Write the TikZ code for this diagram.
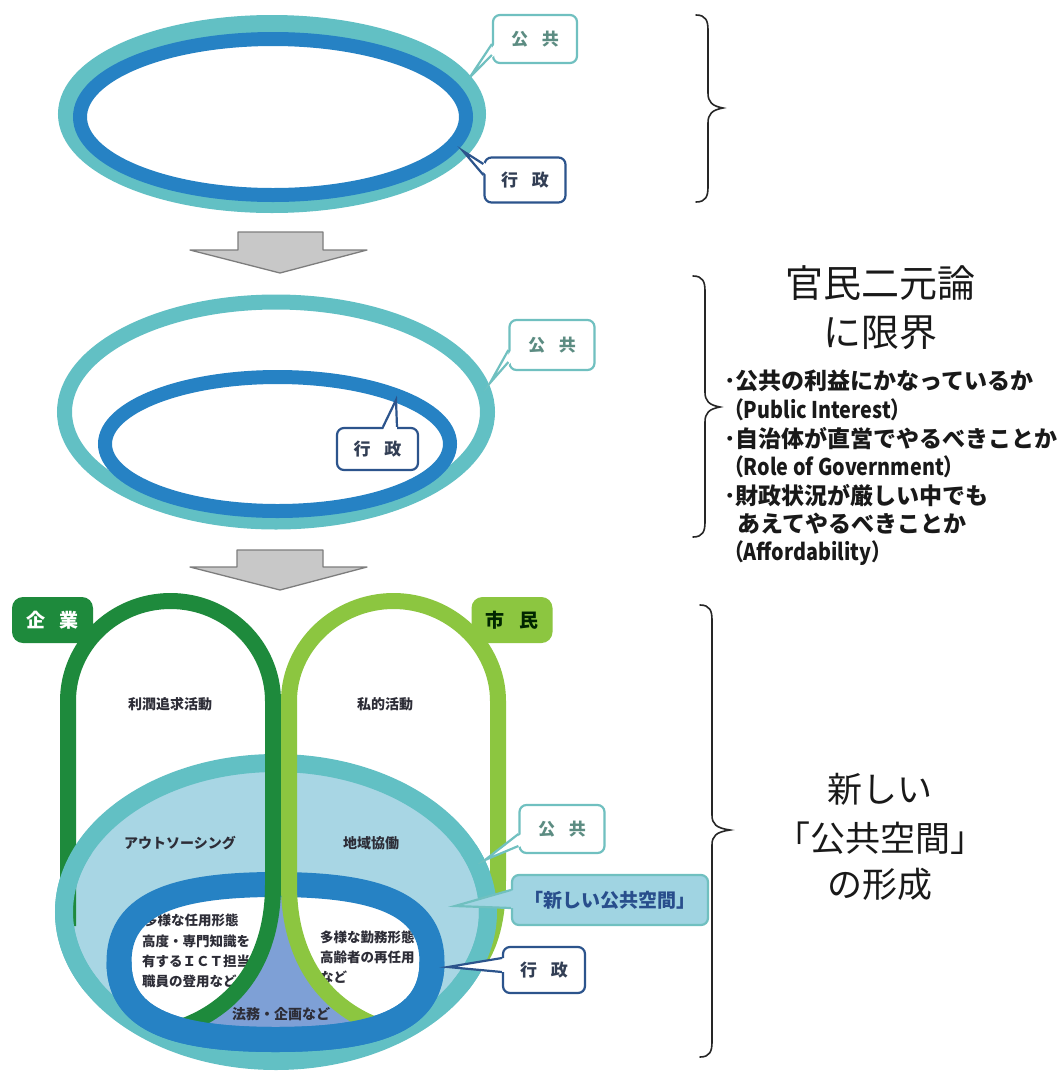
\documentclass[tikz,border=0pt]{standalone}
\usepackage{fontspec}
\setmainfont{Noto Sans CJK JP}
\usetikzlibrary{calc}
\definecolor{teal1}{RGB}{98,192,196}
\definecolor{blue1}{RGB}{38,130,196}
\definecolor{lblue}{RGB}{168,214,228}
\definecolor{peri}{RGB}{126,160,214}
\definecolor{dgreen}{RGB}{30,138,60}
\definecolor{lgreen}{RGB}{140,198,64}
\definecolor{agray}{RGB}{200,200,200}
\definecolor{agrayd}{RGB}{125,125,125}
\definecolor{kbord}{RGB}{112,192,192}
\definecolor{ktext}{RGB}{92,140,130}
\definecolor{gbord}{RGB}{44,84,140}
\definecolor{gtext}{RGB}{50,62,84}
\definecolor{nfill}{RGB}{160,212,226}
\definecolor{ntext}{RGB}{40,78,140}
\definecolor{smalltext}{RGB}{45,45,55}
\newcommand\fs[1]{\fontsize{#1}{#1}\selectfont}
\newcommand\narrow{\addfontfeatures{FakeStretch=0.86}}
% tail on left edge: node, dy1, dy2, tip, fill, draw
\newcommand\tailL[6]{%
  \fill[#5] ($(#1.west)+(3,#2)$) -- (#4) -- ($(#1.west)+(3,#3)$) -- cycle;
  \draw[#6, line width=2.2pt, line join=miter] ($(#1.west)+(0,#2)$) -- (#4) -- ($(#1.west)+(0,#3)$);}
% tail on top edge
\newcommand\tailT[6]{%
  \fill[#5] ($(#1.north)+(#2,3)$) -- (#4) -- ($(#1.north)+(#3,3)$) -- cycle;
  \draw[#6, line width=2.2pt, line join=miter] ($(#1.north)+(#2,0)$) -- (#4) -- ($(#1.north)+(#3,0)$);}
% curly brace: bar x, top y, tip y, bottom y, tip offset
\newcommand\curly[5]{%
  \draw[bracestyle] (#1-12,#2) .. controls (#1-2,#2) and (#1,#2+6) .. (#1,#2+15)
    -- (#1,#3-15) .. controls (#1,#3-6) and (#1+4,#3-2) .. (#1+#5,#3)
    .. controls (#1+4,#3+2) and (#1,#3+6) .. (#1,#3+15)
    -- (#1,#4-15) .. controls (#1,#4-6) and (#1-2,#4) .. (#1-12,#4);}
% rounded oval of the bottom 行政 ring (centre 275.5,962; rx 156.5; ry 77.5)
\newcommand\gyopath{(432,962) .. controls (432,1016.25) and (385.05,1039.5) .. (275.5,1039.5)
   .. controls (165.95,1039.5) and (119,1016.25) .. (119,962)
   .. controls (119,907.75) and (165.95,884.5) .. (275.5,884.5)
   .. controls (385.05,884.5) and (432,907.75) .. (432,962) -- cycle}
\tikzset{
  callbase/.style={line width=2.2pt, rounded corners=7pt, inner sep=0pt, font=\fs{17}\bfseries},
  callk/.style={callbase, draw=kbord, fill=white, text=ktext, minimum width=84pt, minimum height=48pt},
  callg/.style={callbase, draw=gbord, fill=white, text=gtext, minimum width=81pt, minimum height=45pt},
  calln/.style={callbase, draw=kbord, fill=nfill, text=ntext, minimum width=196pt, minimum height=50pt, font=\fs{19}\bfseries},
  tagbox/.style={rounded corners=11pt, inner sep=0pt, minimum width=81pt, minimum height=46pt, font=\fs{19}\bfseries},
  smalltxt/.style={font=\fs{14}\bfseries, text=smalltext, inner sep=0pt},
  innertxt/.style={font=\fs{13.5}\bfseries, text=smalltext, inner sep=0pt, anchor=west},
  bulletline/.style={anchor=west, inner sep=0pt, font=\fs{23}\bfseries, text=black!90},
  titletxt/.style={font=\fs{38}, inner sep=0pt, text=black!90},
  bracestyle/.style={line width=1.6pt, draw=black!85, line cap=round},
  bigarrow/.style={fill=agray, draw=agrayd, line width=1.3pt, line join=round},
}
\begin{document}
\begin{tikzpicture}[x=1pt,y=-1pt]
\useasboundingbox (0,0) rectangle (1064,1072);
\fill[white] (0,0) rectangle (1064,1072);

% ================= TOP =================
\draw[teal1, line width=22pt] (272,114) ellipse[x radius=203, y radius=88];
\draw[blue1, line width=14pt] (273,117) ellipse[x radius=193, y radius=78];
\node[callk] (k1) at (535,39) {公\hspace{14pt}共};
\coordinate (k1t) at (470,77);
\tailL{k1}{5}{16}{k1t}{white}{kbord}
\node[callg] (g1) at (525,180) {行\hspace{14pt}政};
\coordinate (g1t) at (463,151);
\tailL{g1}{-16}{-5}{g1t}{white}{gbord}
\curly{708}{15}{108}{202}{15}

% arrow 1
\fill[bigarrow] (238,232) -- (323,232) -- (323,250) -- (367,250) -- (280,273) -- (190,250) -- (238,250) -- cycle;

% ================= MIDDLE =================
\draw[teal1, line width=15pt] (276,412) ellipse[x radius=211.5, y radius=110];
\draw[blue1, line width=14pt] (277.5,444) ellipse[x radius=172.5, y radius=67];
\node[callk, minimum width=85pt, minimum height=50pt] (k2) at (552,345) {公\hspace{14pt}共};
\coordinate (k2t) at (490,383);
\tailL{k2}{5}{17}{k2t}{white}{kbord}
\node[callg, minimum height=42pt] (g2) at (377.5,449) {行\hspace{14pt}政};
\coordinate (g2t) at (396,400);
\tailT{g2}{5.5}{19.5}{g2t}{white}{gbord}
\curly{705}{276}{407}{537}{15}

\node[titletxt] (t1) at (880,283) {官民二元論};
\node[titletxt] (t2) at (880,333) {に限界};
\node[bulletline] (b1) at (724,381) {･公共の利益にかなっているか};
\node[bulletline] (b2) at (724,410) {\narrow（Public Interest）};
\node[bulletline] (b3) at (724,439) {･自治体が直営でやるべきことか};
\node[bulletline] (b4) at (724,467) {\narrow（Role of Government）};
\node[bulletline] (b5) at (724,496) {･財政状況が厳しい中でも};
\node[bulletline] (b6) at (724,524) {\hspace{13pt}あえてやるべきことか};
\node[bulletline] (b7) at (724,553) {\narrow（Affordability）};

% arrow 2
\fill[bigarrow] (237,550) -- (323,550) -- (323,567) -- (367,567) -- (280,590) -- (190,567) -- (237,567) -- cycle;

% ================= BOTTOM =================
\fill[lblue] (276,912) ellipse[x radius=212, y radius=149];
\draw[teal1, line width=18pt] (276,912) ellipse[x radius=212, y radius=149];
\fill[white] \gyopath;
\begin{scope}
  \clip \gyopath;
  \fill[peri] (273,860) -- (273,885) .. controls (273,955) and (240,1010) .. (172,1030)
     -- (172,1060) -- (390,1060) -- (390,1030) .. controls (322,1010) and (289,955) .. (289,885)
     -- (289,860) -- cycle;
\end{scope}

% inner texts
\node[innertxt] (i1) at (144,920) {多様な任用形態};
\node[innertxt] (i2) at (142,941) {高度・専門知識を};
\node[innertxt] (i3) at (142,961) {有するＩＣＴ担当};
\node[innertxt] (i4) at (142,981) {職員の登用など};
\node[innertxt] (j1) at (320,937) {多様な勤務形態};
\node[innertxt] (j2) at (320,957) {高齢者の再任用};
\node[innertxt] (j3) at (320,977) {など};
\node[smalltxt] (h1) at (281,1014) {法務・企画など};

\draw[blue1, line width=25pt] \gyopath;

% green loops
\draw[dgreen, line width=16pt] (68,926) -- (68,701) .. controls (68,646) and (114,601) .. (170.5,601)
   .. controls (227,601) and (273,646) .. (273,701) -- (273,885)
   .. controls (273,955) and (240,1010) .. (172,1030);
\draw[lgreen, line width=16pt] (390,1030) .. controls (322,1010) and (289,955) .. (289,885)
   -- (289,701) .. controls (289,646) and (337,601) .. (393.5,601)
   .. controls (450,601) and (498,646) .. (498,701) -- (498,880)
   .. controls (498,915) and (492,940) .. (481,958);
% parts of the rings lying over the loop ends
\draw[blue1, line width=25pt] (119,962) .. controls (119,1016.25) and (165.95,1039.5) .. (275.5,1039.5)
   .. controls (385.05,1039.5) and (432,1016.25) .. (432,962);
\draw[teal1, line width=18pt] ($(276,912)+({212*cos(150)},{149*sin(150)})$)
   arc[start angle=150, end angle=205, x radius=212, y radius=149];
\draw[teal1, line width=18pt] ($(276,912)+({212*cos(-25)},{149*sin(-25)})$)
   arc[start angle=-25, end angle=30, x radius=212, y radius=149];

\node[smalltxt] (s1) at (170,704) {利潤追求活動};
\node[smalltxt] (s2) at (385,704) {私的活動};
\node[smalltxt] (s3) at (180,843) {アウトソーシング};
\node[smalltxt] (s4) at (371,843) {地域協働};

\node[tagbox, fill=dgreen, text=white] (ki) at (52.5,620) {企\hspace{15pt}業};
\node[tagbox, fill=lgreen, text=black!85!green] (sh) at (512,620) {市\hspace{15pt}民};

\node[callk, minimum width=85pt] (k3) at (562,829) {公\hspace{14pt}共};
\coordinate (k3t) at (485,860);
\tailL{k3}{5}{17}{k3t}{white}{kbord}
\node[calln] (n3) at (610,900) {「新しい公共空間」};
\coordinate (n3t) at (455,906);
\tailL{n3}{-10}{8}{n3t}{nfill}{kbord}
\node[callg, minimum width=82pt, minimum height=46pt] (g3) at (544,970) {行\hspace{14pt}政};
\coordinate (g3t) at (448,967);
\tailL{g3}{-12}{2}{g3t}{white}{gbord}

\curly{712}{605}{830}{1057}{18}
\node[titletxt, font=\fs{35}] (u1) at (880,789) {新しい};
\node[titletxt, font=\fs{35}] (u2) at (880,838) {「公共空間」};
\node[titletxt, font=\fs{35}] (u3) at (880,884) {の形成};
\end{tikzpicture}
\end{document}
